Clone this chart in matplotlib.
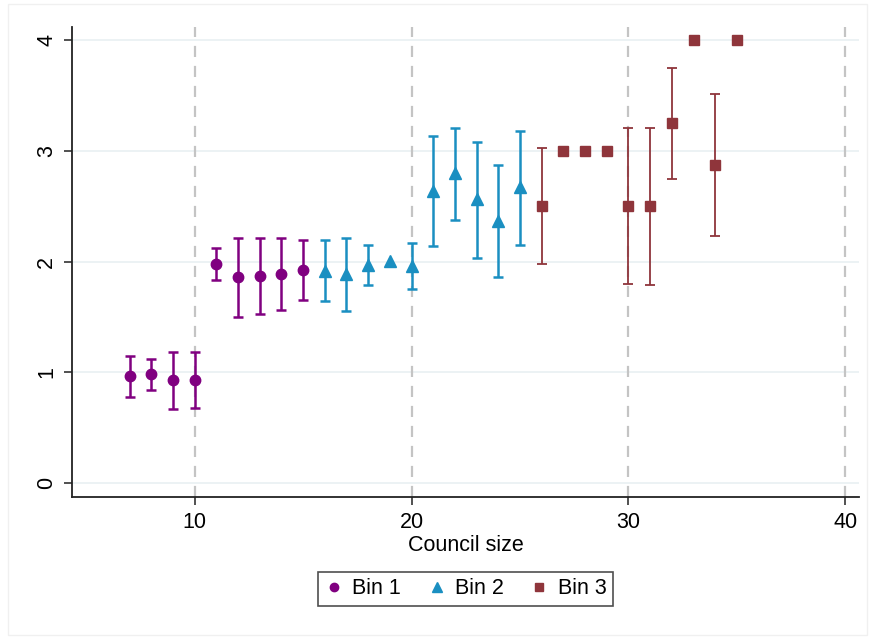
import numpy as np
import matplotlib
matplotlib.use("Agg")
import matplotlib.pyplot as plt
from matplotlib.lines import Line2D
from matplotlib.patches import Rectangle

plt.rcParams['font.family'] = ['Liberation Sans', 'DejaVu Sans']

# bin 1
x1 = [7, 8, 9, 10, 11, 12, 13, 14, 15]
m1 = [0.965, 0.983, 0.929, 0.929, 1.980, 1.857, 1.869, 1.887, 1.923]
lo1 = [0.781, 0.844, 0.672, 0.681, 1.833, 1.501, 1.531, 1.561, 1.652]
hi1 = [1.146, 1.118, 1.188, 1.182, 2.122, 2.210, 2.210, 2.210, 2.194]

# bin 2 (x=19 has no interval)
x2 = [16, 17, 18, 19, 20, 21, 22, 23, 24, 25]
m2 = [1.920, 1.887, 1.968, 2.002, 1.959, 2.640, 2.797, 2.562, 2.369, 2.671]
lo2 = [1.643, 1.555, 1.787, None, 1.749, 2.143, 2.375, 2.029, 1.860, 2.149]
hi2 = [2.194, 2.210, 2.149, None, 2.165, 3.135, 3.207, 3.080, 2.873, 3.183]

# bin 3
x3 = [26, 27, 28, 29, 30, 31, 32, 33, 34, 35]
m3 = [2.5, 3.0, 3.0, 3.0, 2.5, 2.5, 3.25, 4.0, 2.875, 4.0]
lo3 = [1.975, None, None, None, 1.794, 1.79, 2.749, None, 2.233, None]
hi3 = [3.023, None, None, None, 3.207, 3.21, 3.749, None, 3.512, None]

labels = ["Bin 1", "Bin 2", "Bin 3"]
colors = ["#800080", "#1a8fc1", "#8f353b"]
markers = ["o", "^", "s"]
msizes = [7.5, 9, 7]
ewidths = [1.8, 1.8, 1.3]

x_ticks = [10, 20, 30, 40]
y_ticks = [0, 1, 2, 3, 4]

fig = plt.figure(figsize=(8.7, 6.37), dpi=100)
ax = fig.add_axes([0.0831, 0.2202, 0.9043, 0.7374])

# faint outer border
fig.patches.append(Rectangle((0.009, 0.003), 0.988, 0.991, transform=fig.transFigure,
                             fill=False, edgecolor="#f0f0f0", linewidth=1))

for yv in y_ticks:
    ax.axhline(yv, color="#eaf1f3", linewidth=1.3, zorder=0)
for xv in x_ticks:
    ax.axvline(xv, color="#c4c4c4", linewidth=1.6, linestyle=(0, (5, 4)), zorder=1)

series = [(x1, m1, lo1, hi1), (x2, m2, lo2, hi2), (x3, m3, lo3, hi3)]
for (xs, ms, los, his), c, mk, msz, ew in zip(series, colors, markers, msizes, ewidths):
    xs = np.array(xs, dtype=float)
    ms = np.array(ms, dtype=float)
    los = np.array([np.nan if v is None else v for v in los])
    his = np.array([np.nan if v is None else v for v in his])
    ok = ~np.isnan(los)
    ax.errorbar(xs[ok], ms[ok], yerr=[ms[ok] - los[ok], his[ok] - ms[ok]],
                fmt="none", ecolor=c, elinewidth=ew, capsize=3.4, capthick=ew, zorder=2)
    ax.plot(xs, ms, linestyle="none", marker=mk, color=c, markersize=msz, zorder=3)

ax.set_xlim(4.36, 40.63)
ax.set_ylim(-0.124, 4.12)
ax.set_xticks(x_ticks)
ax.set_yticks(y_ticks)
ax.tick_params(axis="both", labelsize=15.5, length=6, width=1.2, color="#333333", pad=5)
for lab in ax.get_yticklabels():
    lab.set_rotation(90)
    lab.set_va("center")

ax.spines["top"].set_visible(False)
ax.spines["right"].set_visible(False)
ax.spines["left"].set_color("#222222")
ax.spines["bottom"].set_color("#222222")
ax.spines["left"].set_linewidth(1.3)
ax.spines["bottom"].set_linewidth(1.3)

fig.text(0.535, 0.143, "Council size", ha="center", va="center", fontsize=15.5)

handles = [Line2D([], [], linestyle="none", marker=mk, color=c, markersize=msz * 0.8)
           for c, mk, msz in zip(colors, markers, msizes)]
leg = fig.legend(handles, labels, loc="center", bbox_to_anchor=(0.5354, 0.0754), ncol=3,
                 fontsize=15.5, frameon=True, fancybox=False, handletextpad=0.45,
                 columnspacing=1.25, borderpad=0.32, handlelength=0.8)
leg.get_frame().set_edgecolor("#222222")
leg.get_frame().set_linewidth(1.2)

fig.savefig("out.png", dpi=100)
